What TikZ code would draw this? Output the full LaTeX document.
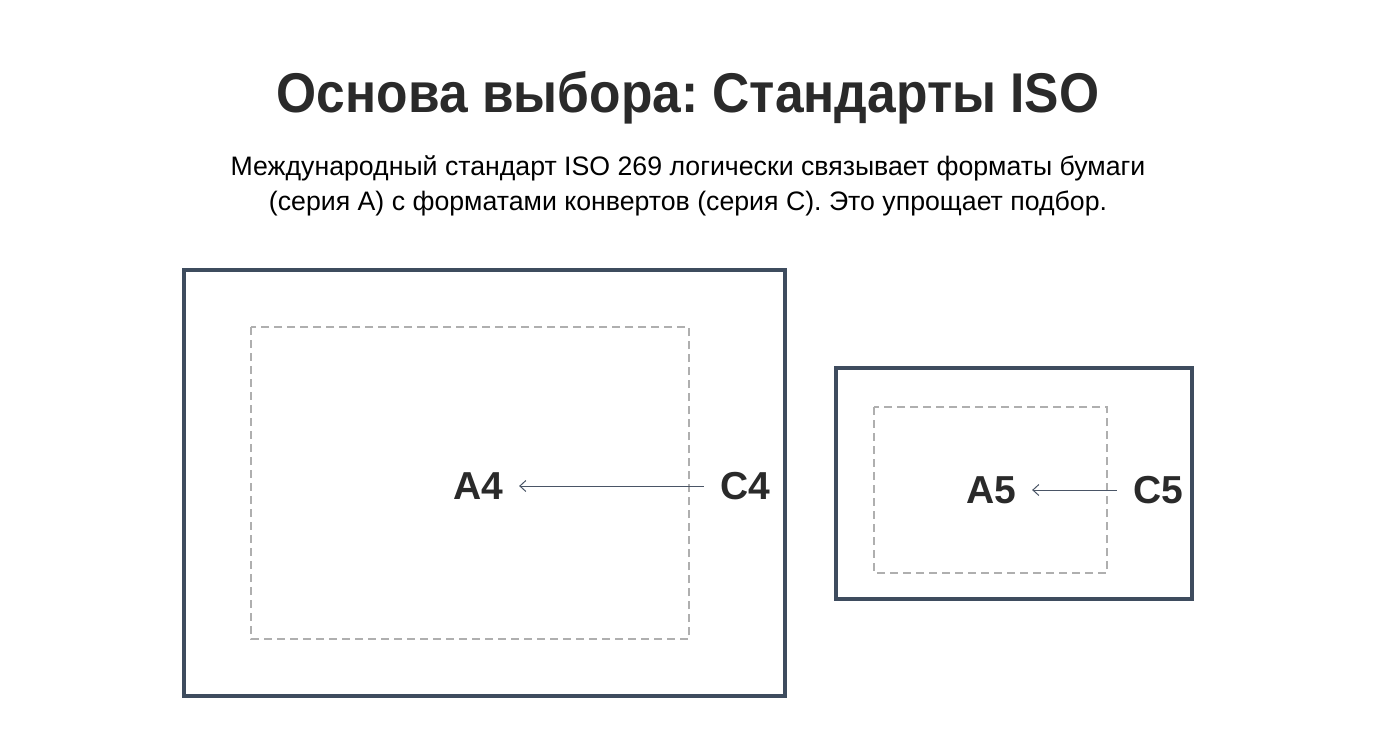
\documentclass[tikz,border=0pt]{standalone}
\usepackage{fontspec}
\setmainfont{Liberation Sans}
\newfontfamily\headfont[FakeStretch=0.92]{Liberation Sans}
\usetikzlibrary{arrows.meta}
\usetikzlibrary{positioning}
\frenchspacing

\definecolor{frameblue}{HTML}{3E4C5E}
\definecolor{dashgray}{HTML}{AFAFAF}
\definecolor{inkgray}{HTML}{2A2A2A}
\definecolor{arrowgray}{HTML}{4A5566}

\begin{document}
\begin{tikzpicture}[x=1pt,y=-1pt]
				\tikzset{envelope/.style = {draw=frameblue, line width=3.5pt}}
				\tikzset{paper/.style = {draw=dashgray, line width=1.8pt, dash pattern=on 8pt off 5pt}}
				\tikzset{fmt/.style = {text=inkgray, font=\fontsize{39}{46}\selectfont\bfseries, inner sep=0pt}}
				\tikzset{edge/.style = {-{Straight Barb[length=6pt,width=11pt]}, arrowgray, line width=1pt, shorten <=16pt, shorten >=16pt}}

				\useasboundingbox (0,0) rectangle (1376,748);
				\fill[white] (0,0) rectangle (1376,748);

				% text
				\node[text=inkgray, font=\headfont\fontsize{56}{66}\selectfont\bfseries] (title) at (688,98) {Основа выбора: Стандарты ISO};
				\node[text=black, font=\fontsize{26.7}{35}\selectfont, align=center] (sub) at (688,186)
					{Международный стандарт ISO 269 логически связывает форматы бумаги\\(серия A) с форматами конвертов (серия C). Это упрощает подбор.};

				% envelopes and sheets
				\draw[envelope] (184,270) rectangle (785,696);
				\draw[paper] (251,327) rectangle (689,639);
				\draw[envelope] (836,368) rectangle (1192,599);
				\draw[paper] (874,407) rectangle (1107,573);

				% labels
				\node[fmt] (a4) at (478,486) {A4};
				\node[fmt] (c4) at (745,486) {C4};
				\node[fmt] (a5) at (991,490) {A5};
				\node[fmt] (c5) at (1158,490) {C5};

				%edges
				\draw[edge] (c4) to (a4);
				\draw[edge] (c5) to (a5);

\end{tikzpicture}
\end{document}
